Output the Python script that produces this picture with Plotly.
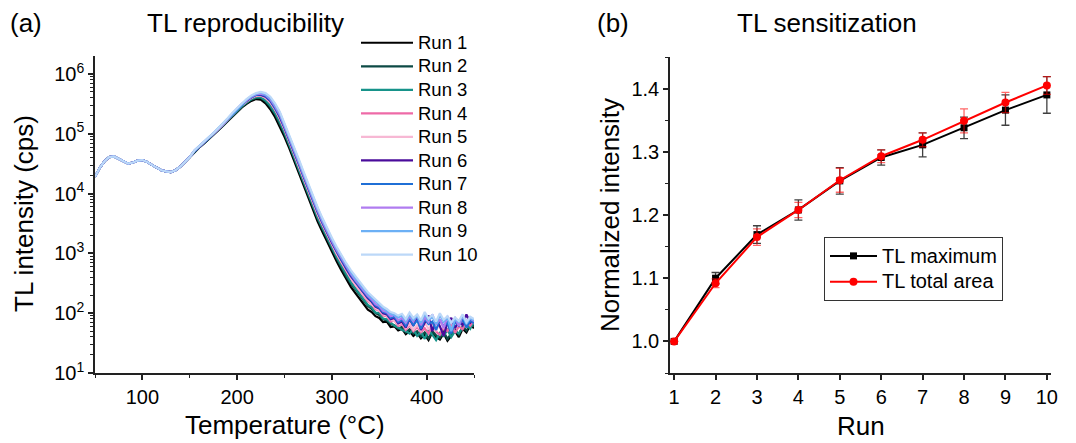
import plotly.graph_objects as go

W, H = 1076, 443
FONT = "Arial, Liberation Sans, sans-serif"

# ---------------- Panel (a): TL glow curves (log10 of cps) ----------------
temp_low = list(range(50, 151, 5))      # common part, identical for all runs
temp_mid = list(range(155, 331, 5))
temp_tail = list(range(334, 451, 4))

log_low_common = [4.28, 4.43, 4.54, 4.61, 4.62, 4.58, 4.53, 4.50, 4.52, 4.55, 4.56,
                  4.53, 4.48, 4.43, 4.39, 4.37, 4.36, 4.39, 4.45, 4.53, 4.61]

run1_mid = [4.70, 4.77, 4.84, 4.91, 4.98, 5.05, 5.13, 5.21, 5.29, 5.37, 5.44, 5.50, 5.55, 5.58, 5.57, 5.51, 5.41, 5.28,
            5.12, 4.95, 4.76, 4.55, 4.34, 4.13, 3.92, 3.72, 3.53, 3.36, 3.19, 3.03, 2.87, 2.72, 2.57, 2.44, 2.33, 2.22]
run2_mid = [4.70, 4.77, 4.84, 4.91, 4.99, 5.06, 5.14, 5.22, 5.30, 5.38, 5.45, 5.52, 5.57, 5.60, 5.60, 5.54, 5.45, 5.33,
            5.17, 5.00, 4.81, 4.60, 4.39, 4.18, 3.97, 3.77, 3.58, 3.41, 3.24, 3.08, 2.92, 2.77, 2.62, 2.50, 2.39, 2.28]
run3_mid = [4.71, 4.78, 4.85, 4.92, 4.99, 5.06, 5.14, 5.23, 5.31, 5.39, 5.46, 5.52, 5.58, 5.61, 5.61, 5.56, 5.47, 5.35,
            5.20, 5.02, 4.83, 4.62, 4.41, 4.20, 3.99, 3.79, 3.60, 3.43, 3.26, 3.10, 2.94, 2.80, 2.65, 2.52, 2.41, 2.30]
run4_mid = [4.71, 4.78, 4.85, 4.92, 5.00, 5.07, 5.15, 5.24, 5.32, 5.40, 5.48, 5.54, 5.60, 5.63, 5.64, 5.60, 5.52, 5.40,
            5.25, 5.07, 4.88, 4.67, 4.46, 4.25, 4.04, 3.84, 3.65, 3.48, 3.31, 3.15, 2.99, 2.85, 2.71, 2.58, 2.47, 2.36]
run5_mid = [4.71, 4.78, 4.85, 4.92, 5.00, 5.07, 5.15, 5.24, 5.32, 5.40, 5.48, 5.54, 5.60, 5.64, 5.64, 5.60, 5.53, 5.41,
            5.26, 5.08, 4.89, 4.68, 4.47, 4.26, 4.05, 3.85, 3.66, 3.49, 3.32, 3.16, 3.00, 2.86, 2.72, 2.59, 2.48, 2.37]
run6_mid = [4.71, 4.78, 4.85, 4.92, 5.00, 5.08, 5.16, 5.24, 5.33, 5.41, 5.49, 5.55, 5.61, 5.65, 5.65, 5.62, 5.55, 5.43,
            5.28, 5.10, 4.91, 4.71, 4.50, 4.29, 4.08, 3.88, 3.69, 3.51, 3.34, 3.18, 3.03, 2.88, 2.75, 2.62, 2.51, 2.40]
run7_mid = [4.71, 4.78, 4.85, 4.92, 5.00, 5.08, 5.16, 5.25, 5.33, 5.41, 5.49, 5.56, 5.61, 5.65, 5.66, 5.63, 5.56, 5.44,
            5.30, 5.11, 4.92, 4.72, 4.51, 4.30, 4.09, 3.89, 3.70, 3.52, 3.35, 3.19, 3.04, 2.90, 2.76, 2.64, 2.53, 2.42]
run8_mid = [4.72, 4.79, 4.86, 4.93, 5.00, 5.08, 5.16, 5.25, 5.34, 5.42, 5.50, 5.56, 5.62, 5.66, 5.67, 5.65, 5.58, 5.46,
            5.32, 5.13, 4.94, 4.74, 4.53, 4.32, 4.11, 3.91, 3.72, 3.54, 3.37, 3.21, 3.06, 2.92, 2.79, 2.66, 2.55, 2.44]
run9_mid = [4.72, 4.79, 4.86, 4.93, 5.01, 5.09, 5.17, 5.26, 5.34, 5.42, 5.50, 5.57, 5.63, 5.67, 5.69, 5.66, 5.60, 5.49,
            5.35, 5.16, 4.97, 4.77, 4.56, 4.35, 4.14, 3.94, 3.75, 3.57, 3.40, 3.24, 3.09, 2.95, 2.81, 2.69, 2.58, 2.47]
run10_mid = [4.72, 4.79, 4.86, 4.93, 5.01, 5.09, 5.17, 5.26, 5.35, 5.43, 5.51, 5.58, 5.64, 5.68, 5.70, 5.68, 5.62, 5.51,
             5.37, 5.18, 4.99, 4.79, 4.58, 4.37, 4.16, 3.96, 3.77, 3.59, 3.42, 3.26, 3.11, 2.97, 2.84, 2.72, 2.61, 2.50]

run1_tail = [2.14, 2.06, 2.02, 1.95, 1.92, 1.85, 1.86, 1.77, 1.78, 1.71, 1.74, 1.65, 1.70, 1.62, 1.67,
             1.58, 1.64, 1.55, 1.68, 1.60, 1.56, 1.66, 1.54, 1.63, 1.70, 1.60, 1.74, 1.68, 1.80, 1.75]
run2_tail = [2.20, 2.12, 2.07, 2.00, 1.97, 1.90, 1.88, 1.82, 1.80, 1.74, 1.77, 1.68, 1.73, 1.66, 1.70,
             1.61, 1.68, 1.58, 1.70, 1.63, 1.59, 1.69, 1.57, 1.66, 1.72, 1.64, 1.78, 1.71, 1.84, 1.78]
run3_tail = [2.23, 2.14, 2.10, 2.01, 2.00, 1.91, 1.90, 1.84, 1.79, 1.76, 1.72, 1.70, 1.66, 1.73, 1.62,
             1.69, 1.57, 1.71, 1.64, 1.55, 1.67, 1.62, 1.72, 1.60, 1.70, 1.66, 1.76, 1.82, 1.74, 1.86]
run4_tail = [2.29, 2.20, 2.15, 2.07, 2.04, 1.96, 1.95, 1.86, 1.88, 1.79, 1.82, 1.72, 1.80, 1.70, 1.77,
             1.68, 1.75, 1.66, 1.79, 1.69, 1.64, 1.76, 1.70, 1.82, 1.67, 1.78, 1.73, 1.86, 1.79, 1.88]
run5_tail = [2.30, 2.22, 2.16, 2.09, 2.05, 1.98, 1.96, 1.89, 1.87, 1.81, 1.84, 1.75, 1.82, 1.72, 1.80,
             1.71, 1.84, 1.74, 1.81, 1.70, 1.86, 1.76, 1.83, 1.72, 1.88, 1.80, 1.85, 1.77, 1.90, 1.83]
run6_tail = [2.33, 2.25, 2.19, 2.11, 2.08, 2.00, 1.98, 1.90, 1.92, 1.83, 1.86, 1.76, 1.90, 1.79, 1.93,
             1.72, 1.85, 1.96, 1.70, 1.88, 1.78, 1.62, 1.84, 1.92, 1.75, 1.87, 1.80, 1.98, 1.84, 1.90]
run7_tail = [2.35, 2.27, 2.21, 2.13, 2.09, 2.02, 2.00, 1.92, 1.94, 1.85, 1.89, 1.79, 1.91, 1.80, 1.88,
             1.74, 1.90, 1.82, 1.86, 1.72, 1.89, 1.78, 1.84, 1.66, 1.86, 1.79, 1.90, 1.76, 1.88, 1.83]
run8_tail = [2.37, 2.29, 2.23, 2.15, 2.12, 2.04, 2.02, 1.95, 1.97, 1.88, 1.92, 1.84, 1.95, 1.86, 1.97,
             1.80, 1.93, 1.85, 1.98, 1.81, 1.90, 1.75, 1.95, 1.84, 1.92, 1.79, 1.96, 1.86, 1.91, 1.87]
run9_tail = [2.40, 2.32, 2.26, 2.19, 2.14, 2.08, 2.04, 1.99, 1.97, 1.93, 1.96, 1.87, 1.98, 1.89, 1.95,
             1.84, 1.99, 1.88, 1.94, 1.82, 1.97, 1.86, 1.93, 1.70, 1.90, 1.85, 1.96, 1.82, 1.92, 1.88]
run10_tail = [2.43, 2.35, 2.29, 2.22, 2.17, 2.11, 2.07, 2.02, 2.00, 1.96, 1.99, 1.90, 2.01, 1.92, 1.98,
              1.88, 2.02, 1.91, 1.97, 1.86, 2.00, 1.89, 1.95, 1.84, 1.93, 1.87, 1.98, 1.85, 1.94, 1.90]

run_names = ["Run 1", "Run 2", "Run 3", "Run 4", "Run 5", "Run 6", "Run 7", "Run 8", "Run 9", "Run 10"]
run_colors = ["#000000", "#0d4a45", "#17938a", "#ee6aa7", "#f7b8d4",
              "#4a0c9b", "#1f6fd6", "#b07cf0", "#6cb0f5", "#bcd8f8"]
run_mids = [run1_mid, run2_mid, run3_mid, run4_mid, run5_mid, run6_mid, run7_mid, run8_mid, run9_mid, run10_mid]
run_tails = [run1_tail, run2_tail, run3_tail, run4_tail, run5_tail, run6_tail, run7_tail, run8_tail, run9_tail, run10_tail]

# ---------------- Panel (b): TL sensitization ----------------
runs = [1, 2, 3, 4, 5, 6, 7, 8, 9, 10]
tl_max = [1.000, 1.100, 1.169, 1.208, 1.254, 1.291, 1.311, 1.338, 1.366, 1.390]
tl_max_err = [0.0, 0.009, 0.014, 0.016, 0.021, 0.012, 0.019, 0.017, 0.024, 0.029]
tl_area = [1.000, 1.092, 1.165, 1.208, 1.255, 1.293, 1.319, 1.349, 1.378, 1.405]
tl_area_err = [0.0, 0.007, 0.013, 0.012, 0.019, 0.010, 0.011, 0.019, 0.016, 0.014]
series_names = ["TL maximum", "TL total area"]


def legend_label(text, size):
    return '<span style="font-size:%spx">%s</span>' % (size, text)


fig = go.Figure()

temps = temp_low + temp_mid + temp_tail
for name, color, mid, tail in zip(run_names, run_colors, run_mids, run_tails):
    logs = log_low_common + mid + tail
    fig.add_trace(go.Scatter(
        x=temps, y=[10 ** v for v in logs], mode="lines", name=legend_label(name, 18.5),
        line=dict(color=color, width=2.2), xaxis="x", yaxis="y", legend="legend"))

fig.add_trace(go.Scatter(
    x=runs, y=tl_max, mode="lines+markers", name=legend_label(series_names[0], 20),
    line=dict(color="black", width=2), marker=dict(symbol="square", size=7, color="black"),
    error_y=dict(type="data", array=tl_max_err, color="rgba(0,0,0,0.75)", thickness=1.3, width=4),
    xaxis="x2", yaxis="y2", legend="legend2"))
fig.add_trace(go.Scatter(
    x=runs, y=tl_area, mode="lines+markers", name=legend_label(series_names[1], 20),
    line=dict(color="#ff0000", width=2), marker=dict(symbol="circle", size=8, color="#ff0000"),
    error_y=dict(type="data", array=tl_area_err, color="rgba(255,0,0,0.6)", thickness=1.3, width=4),
    xaxis="x2", yaxis="y2", legend="legend2"))


def px(x):
    return x / W


def py(y):
    return 1 - y / H


axis_common = dict(showline=True, linecolor="#222", linewidth=1.5, ticks="outside",
                   tickcolor="#222", tickwidth=1.5, ticklen=5, showgrid=False, zeroline=False,
                   tickfont=dict(family=FONT, size=20, color="black"), mirror=False)

y_major = [10, 100, 1000, 10000, 100000, 1000000]
y_major_text = ["10<sup>1</sup>", "10<sup>2</sup>", "10<sup>3</sup>", "10<sup>4</sup>",
                "10<sup>5</sup>", "10<sup>6</sup>"]
y_minor = [m * 10 ** e for e in range(1, 7) for m in range(2, 10) if m * 10 ** e < 2e6]

fig.update_layout(
    width=W, height=H, margin=dict(l=0, r=0, t=0, b=0),
    template="none", paper_bgcolor="white", plot_bgcolor="white",
    font=dict(family=FONT, color="black"),
    xaxis=dict(domain=[px(95), px(474)], range=[50, 450], tickvals=[100, 200, 300, 400],
               minor=dict(tickvals=[50, 150, 250, 350, 450], ticks="outside", ticklen=3,
                          tickcolor="#222", tickwidth=1.2),
               anchor="y", **axis_common),
    yaxis=dict(domain=[py(373), py(56)], type="log", range=[1, 6.3],
               tickvals=y_major, ticktext=y_major_text,
               minor=dict(tickvals=y_minor, ticks="outside", ticklen=3, tickcolor="#222", tickwidth=1.2),
               anchor="x", **axis_common),
    xaxis2=dict(domain=[px(670), px(1051)], range=[0.9, 10.1], tickvals=runs,
                anchor="y2", **axis_common),
    yaxis2=dict(domain=[py(373), py(57)], range=[0.95, 1.45],
                tickvals=[1.0, 1.1, 1.2, 1.3, 1.4], ticktext=["1.0", "1.1", "1.2", "1.3", "1.4"],
                minor=dict(tickvals=[0.95, 1.05, 1.15, 1.25, 1.35, 1.45], ticks="outside", ticklen=3,
                           tickcolor="#222", tickwidth=1.2),
                anchor="x2", **axis_common),
    legend=dict(x=px(356), y=py(26), xanchor="left", yanchor="top", bgcolor="rgba(0,0,0,0)",
                font=dict(family=FONT, size=15.8, color="black"), tracegroupgap=0, borderwidth=0,
                itemwidth=52),
    legend2=dict(x=px(824), y=py(237), xanchor="left", yanchor="top", bgcolor="white",
                 bordercolor="#333", borderwidth=1, itemwidth=47,
                 font=dict(family=FONT, size=17.5, color="black"), tracegroupgap=0),
    showlegend=True,
)

annotations = [
    dict(text="(a)", x=px(8), y=py(23.5), xanchor="left", font_size=26),
    dict(text="TL reproducibility", x=px(245), y=py(23.5), xanchor="center", font_size=26),
    dict(text="(b)", x=px(595), y=py(23.5), xanchor="left", font_size=26),
    dict(text="TL sensitization", x=px(827), y=py(23.5), xanchor="center", font_size=26),
    dict(text="Temperature (°C)", x=px(284.5), y=py(425), xanchor="center", font_size=26),
    dict(text="TL intensity (cps)", x=px(24), y=py(214), xanchor="center", textangle=-90, font_size=26),
    dict(text="Run", x=px(860.5), y=py(425.5), xanchor="center", font_size=26),
    dict(text="Normalized intensity", x=px(610), y=py(215), xanchor="center", textangle=-90, font_size=26),
]
for a in annotations:
    fs = a.pop("font_size")
    fig.add_annotation(xref="paper", yref="paper", yanchor="middle", showarrow=False,
                       font=dict(family=FONT, size=fs, color="black"), **a)

fig.write_html("out.html")
